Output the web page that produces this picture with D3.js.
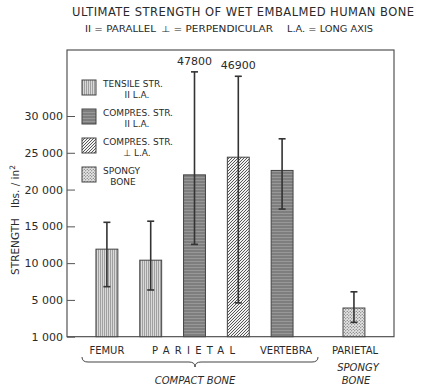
<!DOCTYPE html>
<html>
<head>
<meta charset="utf-8">
<script src="https://cdn.jsdelivr.net/npm/d3@7"></script>
<style>
  body { margin: 0; background: #fff; }
  svg text { font-family: "DejaVu Sans", "Liberation Sans", sans-serif; fill: #2a2a2a; }
</style>
</head>
<body>
<div id="chart"></div>
<script>
// data
const barKeys = ['femur-t', 'parietal-t', 'parietal-cpar', 'parietal-cperp', 'vertebra-cpar', 'parietal-spongy'];
const barTypes = ['tensile', 'tensile', 'compPar', 'compPerp', 'compPar', 'spongy'];
const means = [11900, 10400, 22000, 24400, 22600, 3900];
const lows = [6800, 6350, 12550, 4600, 17350, 1950];
const highs = [15550, 15700, 36000, 35400, 26900, 6100];
const offScaleLabels = [null, null, '47800', '46900', null, null];
const yTicks = [0, 5000, 10000, 15000, 20000, 25000, 30000];
const yTickLabels = ['1 000', '5 000', '10 000', '15 000', '20 000', '25 000', '30 000'];
const legendTypes = ['tensile', 'compPar', 'compPerp', 'spongy'];
const legendLines = [['TENSILE STR.', 'II L.A.'], ['COMPRES. STR.', 'II L.A.'], ['COMPRES. STR.', '\u22A5 L.A.'], ['SPONGY', 'BONE']];
const keyParts = ['II = PARALLEL', '\u22A5 = PERPENDICULAR', 'L.A. = LONG AXIS'];

const W = 421, H = 391;
const plot = {left: 67, right: 394, top: 50, bottom: 336.7};
const ink = '#333';

const svg = d3.select('#chart').append('svg')
  .attr('width', W).attr('height', H);

// patterns
const defs = svg.append('defs');
function pattern(id, w, h, draw) {
  const p = defs.append('pattern').attr('id', id)
    .attr('patternUnits', 'userSpaceOnUse').attr('width', w).attr('height', h);
  draw(p);
}
pattern('tensile', 2, 4, p => {
  p.append('rect').attr('width', 2).attr('height', 4).attr('fill', '#d9d9d9');
  p.append('line').attr('x1', 0.5).attr('x2', 0.5).attr('y1', 0).attr('y2', 4)
    .attr('stroke', '#929292').attr('stroke-width', 0.8);
});
pattern('compPar', 8, 3, p => {
  p.append('rect').attr('width', 8).attr('height', 3).attr('fill', '#7e7e7e');
  p.append('line').attr('x1', 0).attr('x2', 8).attr('y1', 0.5).attr('y2', 0.5)
    .attr('stroke', '#a4a4a4').attr('stroke-width', 0.7);
});
pattern('compPerp', 3, 3, p => {
  p.append('rect').attr('width', 3).attr('height', 3).attr('fill', '#f2f2f2');
  p.append('path').attr('d', 'M-1,1 L1,-1 M0,3 L3,0 M2,4 L4,2')
    .attr('stroke', '#444').attr('stroke-width', 0.9);
});
pattern('spongy', 3, 3, p => {
  p.append('rect').attr('width', 3).attr('height', 3).attr('fill', '#e4e4e4');
  p.append('circle').attr('cx', 0.75).attr('cy', 0.75).attr('r', 0.6).attr('fill', '#555');
  p.append('circle').attr('cx', 2.25).attr('cy', 2.25).attr('r', 0.6).attr('fill', '#555');
});

// scales
const y = d3.scaleLinear().domain([0, 30000]).range([plot.bottom, 116]);
const compactKeys = barKeys.slice(0, 5);
const xCompact = d3.scaleBand().domain(compactKeys).range([85, 304]).paddingInner(0.5).paddingOuter(0.25);
const xSpongy = d3.scaleBand().domain(barKeys.slice(5)).range([343, 366]);
const bw = xCompact.bandwidth();
const xPos = k => compactKeys.includes(k) ? xCompact(k) : xSpongy(k);

// titles
svg.append('text').attr('x', 72).attr('y', 16)
  .attr('textLength', 342).attr('lengthAdjust', 'spacing')
  .style('font-size', '11.5px')
  .text('ULTIMATE STRENGTH OF WET EMBALMED HUMAN BONE');
const keyX = [85, 161, 287], keyW = [71, 112, 86];
svg.append('g').selectAll('text').data(keyParts).join('text')
  .attr('x', (d, i) => keyX[i]).attr('y', 32)
  .attr('textLength', (d, i) => keyW[i]).attr('lengthAdjust', 'spacingAndGlyphs')
  .style('font-size', '8.5px')
  .text(d => d);

// frame
svg.append('rect')
  .attr('x', plot.left).attr('y', plot.top)
  .attr('width', plot.right - plot.left).attr('height', plot.bottom - plot.top)
  .attr('fill', 'none').attr('stroke', '#444').attr('stroke-width', 1.1);

// y axis
const yAxis = d3.axisRight(y).tickValues(yTicks).tickSize(8).tickFormat('');
const gy = svg.append('g').attr('transform', `translate(${plot.left},0)`).call(yAxis);
gy.select('.domain').remove();
gy.selectAll('line').attr('stroke', '#555');
svg.append('g').selectAll('text').data(yTicks).join('text')
  .attr('x', 63).attr('y', d => y(d) + 4)
  .attr('text-anchor', 'end').style('font-size', '11px')
  .text((d, i) => yTickLabels[i]);

svg.append('text')
  .attr('transform', 'translate(19,220) rotate(-90)')
  .attr('text-anchor', 'middle').style('font-size', '10.5px')
  .html('STRENGTH&#160;&#160;&#160;lbs. / in<tspan dy="-4" style="font-size:7.5px">2</tspan>');

// bars
const data = barKeys.map((k, i) => ({key: k, type: barTypes[i], mean: means[i], lo: lows[i], hi: highs[i], label: offScaleLabels[i]}));

svg.append('g').selectAll('rect').data(data).join('rect')
  .attr('x', d => xPos(d.key)).attr('width', bw)
  .attr('y', d => y(d.mean)).attr('height', d => y(0) - y(d.mean))
  .attr('fill', d => `url(#${d.type})`)
  .attr('stroke', '#444').attr('stroke-width', 1);

// error bars
const eb = svg.append('g').selectAll('g').data(data).join('g')
  .attr('transform', d => `translate(${xPos(d.key) + bw / 2},0)`)
  .attr('stroke', ink).attr('stroke-width', 1.6);
eb.append('line').attr('y1', d => y(d.lo)).attr('y2', d => y(d.hi));
eb.append('line').attr('x1', -3.5).attr('x2', 3.5).attr('y1', d => y(d.lo)).attr('y2', d => y(d.lo));
eb.append('line').attr('x1', -3.5).attr('x2', 3.5).attr('y1', d => y(d.hi)).attr('y2', d => y(d.hi));

svg.append('g').selectAll('text').data(data.filter(d => d.label)).join('text')
  .attr('x', d => xPos(d.key) + bw / 2).attr('y', d => y(d.hi) - 7)
  .attr('text-anchor', 'middle').style('font-size', '11px')
  .text(d => d.label);

// legend
const lg = svg.append('g').selectAll('g').data(legendTypes).join('g')
  .attr('transform', (d, i) => `translate(82,${80 + i * 29})`);
lg.append('rect').attr('width', 14).attr('height', 15)
  .attr('fill', d => `url(#${d})`).attr('stroke', '#444').attr('stroke-width', 1);
lg.append('text').attr('x', 21).attr('y', 7).style('font-size', '9px')
  .text((d, i) => legendLines[i][0]);
lg.append('text').attr('x', (d, i) => i === 3 ? 41 : 55).attr('y', 17.5)
  .attr('text-anchor', 'middle').style('font-size', '9px')
  .text((d, i) => legendLines[i][1]);

// category labels
const catFont = '10px';
svg.append('text').attr('x', xCompact('femur-t') + bw / 2).attr('y', 354)
  .attr('text-anchor', 'middle').style('font-size', catFont).text('FEMUR');
svg.append('text').attr('x', 152).attr('y', 354)
  .attr('textLength', 83).attr('lengthAdjust', 'spacing')
  .style('font-size', catFont).text('PARIETAL');
svg.append('text').attr('x', 286).attr('y', 354)
  .attr('text-anchor', 'middle').style('font-size', catFont).text('VERTEBRA');
svg.append('text').attr('x', 355).attr('y', 354)
  .attr('text-anchor', 'middle').style('font-size', catFont).text('PARIETAL');

// brace under compact bone
svg.append('path')
  .attr('d', 'M82,357 Q82,362 88,362 L189,362 Q195,362 195,367 Q195,362 201,362 L312,362 Q318,362 318,357')
  .attr('fill', 'none').attr('stroke', '#444').attr('stroke-width', 1);

svg.append('text').attr('x', 195).attr('y', 384)
  .attr('text-anchor', 'middle').style('font-size', '10px').style('font-style', 'italic')
  .text('COMPACT BONE');
svg.append('text').attr('x', 358).attr('y', 371)
  .attr('text-anchor', 'middle').style('font-size', '10px').style('font-style', 'italic')
  .text('SPONGY');
svg.append('text').attr('x', 356).attr('y', 384)
  .attr('text-anchor', 'middle').style('font-size', '10px').style('font-style', 'italic')
  .text('BONE');
</script>
</body>
</html>
